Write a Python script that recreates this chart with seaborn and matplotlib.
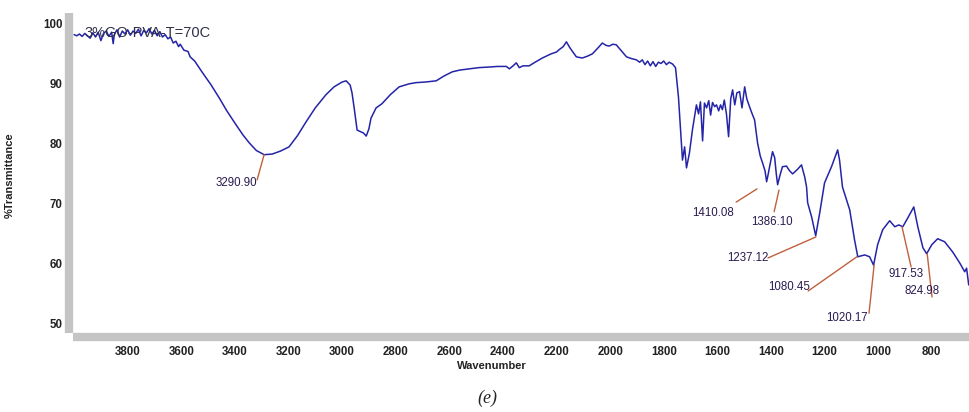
import matplotlib
matplotlib.use("Agg")
import matplotlib.pyplot as plt
import seaborn as sns
import pandas as pd
from matplotlib.ticker import MultipleLocator, FixedLocator, FixedFormatter

# ---- data ----
wavenumber = [4000, 3990, 3980, 3970, 3960, 3950, 3940, 3930, 3920, 3910, 3900, 3890, 3880, 3870,
              3860, 3854, 3850, 3840, 3830, 3820, 3810, 3800, 3790, 3780, 3770, 3760, 3750, 3740,
              3730, 3720, 3710, 3700, 3690, 3680, 3670, 3660, 3650, 3640, 3630, 3620, 3610, 3604,
              3590, 3575, 3567, 3550, 3523, 3490, 3459, 3430, 3396, 3370, 3347, 3320, 3291, 3261,
              3230, 3198, 3166, 3134, 3100, 3060, 3030, 3000, 2985, 2970, 2963, 2955, 2944, 2930,
              2920, 2910, 2900, 2892, 2873, 2851, 2820, 2787, 2750, 2724, 2690, 2649, 2620, 2589,
              2560, 2526, 2490, 2451, 2420, 2387, 2376, 2362, 2350, 2339, 2325, 2302, 2280, 2253,
              2220, 2200, 2190, 2175, 2163, 2150, 2126, 2104, 2085, 2066, 2045, 2029, 2015, 2003,
              1990, 1977, 1960, 1939, 1920, 1902, 1890, 1880, 1870, 1860, 1850, 1840, 1830, 1820,
              1810, 1800, 1790, 1780, 1767, 1756, 1745, 1734, 1730, 1722, 1715, 1704, 1693, 1685,
              1678, 1670, 1663, 1655, 1648, 1640, 1632, 1625, 1618, 1610, 1603, 1595, 1588, 1581,
              1574, 1566, 1558, 1550, 1543, 1535, 1527, 1517, 1508, 1498, 1490, 1480, 1470, 1461,
              1450, 1440, 1431, 1422, 1416, 1410, 1405, 1394, 1386, 1380, 1375, 1366, 1357, 1342,
              1330, 1319, 1300, 1286, 1274, 1267, 1263, 1248, 1233, 1218, 1200, 1174, 1151, 1144,
              1133, 1106, 1088, 1076, 1050, 1032, 1017, 1002, 983, 957, 938, 923, 908, 889, 867,
              852, 833, 819, 800, 778, 752, 722, 696, 677, 670, 662]
transmittance = [98.2, 98.0, 98.3, 97.9, 98.4, 98.0, 97.6, 98.5, 97.8, 98.6, 97.2, 98.4, 98.8, 97.9,
                 98.6, 96.7, 98.2, 99.0, 97.8, 98.8, 98.3, 99.0, 98.1, 98.8, 98.4, 99.1, 98.0, 98.9,
                 98.5, 99.2, 98.3, 98.9, 98.0, 98.7, 97.8, 98.2, 97.5, 97.8, 96.8, 97.1, 96.2, 96.6,
                 95.6, 95.4, 94.5, 93.8, 92.0, 89.9, 87.7, 85.5, 83.2, 81.5, 80.2, 78.9, 78.2, 78.3,
                 78.8, 79.5, 81.4, 83.7, 86.0, 88.2, 89.5, 90.3, 90.5, 89.8, 88.5, 86.0, 82.3, 82.0,
                 81.8, 81.3, 82.5, 84.3, 86.0, 86.7, 88.2, 89.5, 90.0, 90.2, 90.3, 90.5, 91.3, 92.0,
                 92.3, 92.5, 92.7, 92.8, 92.9, 92.9, 92.5, 93.0, 93.5, 92.7, 93.0, 93.0, 93.6, 94.3,
                 95.0, 95.3, 95.7, 96.2, 97.0, 96.0, 94.5, 94.3, 94.6, 95.0, 96.0, 96.8, 96.4, 96.3,
                 96.6, 96.5, 95.6, 94.5, 94.2, 94.0, 93.6, 94.0, 93.2, 93.8, 93.0, 93.7, 92.9, 93.6,
                 93.4, 93.8, 93.2, 93.6, 93.3, 92.7, 87.8, 80.2, 77.3, 79.5, 76.0, 78.5, 82.3, 84.5,
                 86.5, 85.0, 87.0, 80.5, 86.8, 86.0, 87.2, 84.8, 86.9, 86.2, 86.5, 85.5, 86.5, 85.7,
                 87.3, 85.0, 81.2, 87.5, 89.0, 86.5, 88.5, 88.7, 86.0, 89.5, 87.5, 86.2, 85.0, 84.0,
                 80.2, 78.0, 76.8, 75.5, 73.7, 75.0, 76.2, 78.7, 77.7, 75.0, 73.2, 74.8, 76.2, 76.3,
                 75.5, 75.0, 75.8, 76.5, 74.5, 72.8, 70.2, 67.8, 64.7, 68.5, 73.5, 76.2, 79.0, 77.3,
                 72.8, 69.0, 64.0, 61.2, 61.5, 61.2, 59.8, 63.2, 65.7, 67.2, 66.2, 66.5, 66.2, 67.7, 69.5,
                 66.2, 62.7, 61.7, 63.2, 64.2, 63.7, 62.0, 60.2, 58.7, 59.3, 56.5]

peak_labels = ["3290.90", "1410.08", "1386.10", "1237.12", "1080.45", "1020.17", "917.53", "824.98"]
label_x = [3396, 1616, 1396, 1485, 1332, 1116, 896, 836]
label_y = [73.5, 68.5, 67.0, 61.0, 56.2, 51.0, 58.3, 55.5]
leader_x0 = [3317, 1530, 1388, 1411, 1261, 1034, 877, 799]
leader_y0 = [74.0, 70.3, 68.7, 61.0, 55.5, 51.8, 59.5, 54.5]
leader_x1 = [3291, 1452, 1370, 1232, 1079, 1015, 911, 817]
leader_y1 = [78.2, 72.5, 72.3, 64.5, 61.2, 59.8, 66.2, 61.7]

xtick_values = list(range(4000, 799, -200))
xtick_labels = [""] + [str(v) for v in range(3800, 799, -200)]
ytick_values = [50, 60, 70, 80, 90, 100]

sample_name = "3%GO-PVA-T=70C"

# ---- plotting ----
sns.set_style("white")
plt.rcParams["font.family"] = ["Liberation Sans", "DejaVu Sans"]

fig = plt.figure(figsize=(9.69, 4.12), dpi=100)
ax = fig.add_axes([73 / 969, 79 / 412, 896 / 969, 320 / 412])

df = pd.DataFrame({"w": wavenumber, "t": transmittance})
sns.lineplot(data=df, x="w", y="t", sort=False, estimator=None, ax=ax,
             color="#2424a8", linewidth=1.1)

for lx, ly, x0, y0, x1, y1, lab in zip(label_x, label_y, leader_x0, leader_y0,
                                        leader_x1, leader_y1, peak_labels):
    ax.plot([x0, x1], [y0, y1], color="#c0603c", linewidth=1.0)
    ax.text(lx, ly, lab, ha="center", va="center", fontsize=8.3,
            color="#2a1a50")

ax.text(3962, 98.5, sample_name, ha="left", va="center", fontsize=10.5,
        color="#303048")

ax.set_xlim(4004, 661)
ax.set_ylim(48.5, 101.8)
ax.xaxis.set_major_locator(FixedLocator(xtick_values))
ax.xaxis.set_major_formatter(FixedFormatter(xtick_labels))
ax.xaxis.set_minor_locator(MultipleLocator(40))
ax.set_yticks(ytick_values)

for side in ("top", "right"):
    ax.spines[side].set_visible(False)
for side in ("left", "bottom"):
    ax.spines[side].set_position(("outward", 3))
    ax.spines[side].set_linewidth(6)
    ax.spines[side].set_color("#c4c4c4")
    ax.spines[side].set_capstyle("butt")

ax.tick_params(axis="x", which="major", direction="inout", length=5, width=1,
               color="#a01818", labelsize=8.3, pad=4)
ax.tick_params(axis="x", which="minor", direction="inout", length=2.5, width=1,
               color="#a01818")
ax.tick_params(axis="y", which="major", direction="inout", length=5, width=1,
               color="#a01818", labelsize=8.3, pad=2)
for lab in ax.get_xticklabels() + ax.get_yticklabels():
    lab.set_fontweight("bold")
    lab.set_color("#222222")

ax.set_xlabel("Wavenumber", fontsize=8, fontweight="bold", color="#222222")
ax.xaxis.set_label_coords((492 - 73) / 896, -(361 - 333) / 320)
ax.set_ylabel("%Transmittance", fontsize=8, fontweight="bold", color="#222222")
ax.yaxis.set_label_coords((15 - 73) / 896, (333 - 175) / 320)
ax.grid(False)

fig.text(487 / 969, 1 - 398 / 412, "(e)", ha="center", va="center", fontsize=13,
         style="italic", family="Liberation Serif")

fig.savefig("out.png", dpi=100)
